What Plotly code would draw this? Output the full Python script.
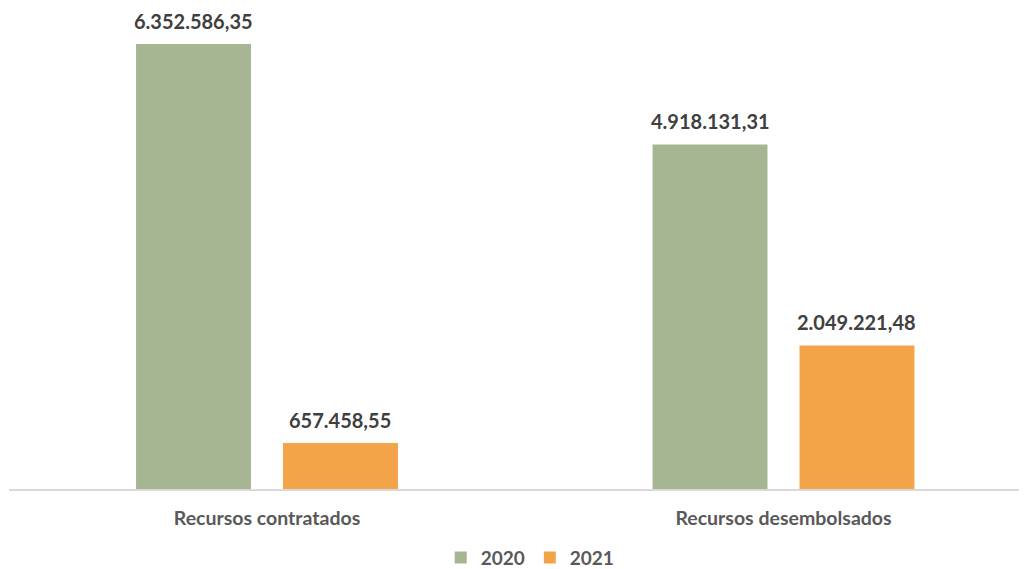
import plotly.graph_objects as go

categories = ["Recursos contratados", "Recursos desembolsados"]
values_2020 = [6352586.35, 4918131.31]
values_2021 = [657458.55, 2049221.48]
series_names = ["2020", "2021"]


def fmt_br(v):
    s = f"{v:,.2f}"
    return s.replace(",", "X").replace(".", ",").replace("X", ".")


GREEN = "#A6B592"
ORANGE = "#F4A448"
FONT = "Lato"
BARGAP = 0.431
BARGROUPGAP = 0.218
PX_PER_CAT = 516.5

fig = go.Figure()
series = [(series_names[0], values_2020, GREEN), (series_names[1], values_2021, ORANGE)]
for name, vals, col in series:
    fig.add_trace(go.Bar(
        x=categories, y=vals, name=name, marker=dict(color=col, line=dict(width=0)),
    ))

slot = PX_PER_CAT * (1 - BARGAP) / 2
for i, (name, vals, col) in enumerate(series):
    shift = (i - 0.5) * slot
    for c, v in zip(categories, vals):
        fig.add_annotation(
            x=c, y=v, text=fmt_br(v), showarrow=False, xanchor="center", yanchor="bottom",
            xshift=shift, yshift=9,
            font=dict(family=FONT, size=20, color="#404040", weight="bold"),
        )

fig.update_layout(
    width=1027, height=569,
    margin=dict(l=1, r=0, t=12, b=88, autoexpand=False),
    paper_bgcolor="white", plot_bgcolor="white",
    barmode="group", bargap=BARGAP, bargroupgap=BARGROUPGAP,
    xaxis=dict(
        range=[-0.4995, 1.4869], showgrid=False, showline=True,
        linecolor="#D9D9D9", linewidth=2, ticks="", ticklabelstandoff=11,
        tickfont=dict(family=FONT, size=19.5, color="#595959", weight="bold"),
    ),
    yaxis=dict(range=[0, 6695000], visible=False, showgrid=False, zeroline=False),
    legend=dict(
        orientation="h", x=0.508, xanchor="center",
        yref="container", y=0.034, yanchor="middle",
        font=dict(family=FONT, size=19, color="#595959", weight="bold"),
        traceorder="normal",
    ),
    showlegend=True,
)

fig.write_html("out.html")
